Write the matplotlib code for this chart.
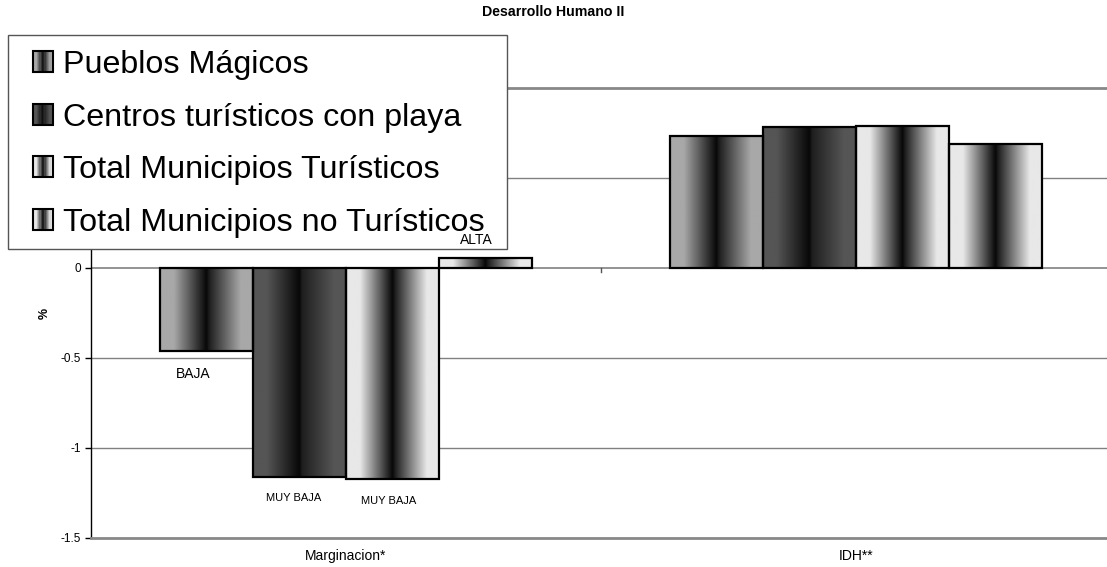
import numpy as np
import matplotlib
matplotlib.use("Agg")
import matplotlib.pyplot as plt
from matplotlib.patches import Patch, Rectangle
from matplotlib.legend_handler import HandlerBase

plt.rcParams['font.family'] = ['Liberation Sans', 'DejaVu Sans']

# Data
categories = ['Marginacion*', 'IDH**']
series = ['Pueblos Mágicos', 'Centros turísticos con playa',
          'Total Municipios Turísticos', 'Total Municipios no Turísticos']
pueblos = [-0.46, 0.733]
playa = [-1.16, 0.785]
total_tur = [-1.17, 0.79]
total_no_tur = [0.056, 0.69]
marg_labels = ['BAJA', 'MUY BAJA', 'MUY BAJA', 'ALTA']

base_colors = ['#a8a8a8', '#555555', '#e8e8e8', '#e8e8e8']

# horizontal gradient: base -> near black in the middle -> base
grad_pos = [0.0, 0.15, 0.5, 0.53, 0.87, 1.0]


def grad_colors(base, n=64):
    rgb = np.array(matplotlib.colors.to_rgb(base))
    dark = np.array([0.03, 0.03, 0.03])
    dark2 = np.array([0.12, 0.12, 0.12])
    stops = np.array([rgb, rgb, dark, dark2, rgb, rgb])
    t = (np.arange(n) + 0.5) / n
    return np.stack([np.interp(t, grad_pos, stops[:, k]) for k in range(3)], axis=1)


class GradHandler(HandlerBase):
    def __init__(self, base):
        super().__init__()
        self.base = base

    def create_artists(self, legend, orig_handle, xdescent, ydescent,
                       width, height, fontsize, trans):
        n = 16
        cols = grad_colors(self.base, n)
        arts = []
        for i in range(n):
            arts.append(Rectangle((-xdescent + i * width / n, -ydescent), width / n, height,
                                  facecolor=cols[i], edgecolor='none', transform=trans))
        arts.append(Rectangle((-xdescent, -ydescent), width, height, fill=False,
                              edgecolor='black', lw=1.5, transform=trans))
        return arts


fig = plt.figure(figsize=(11.07, 5.67), dpi=100)
ax = fig.add_axes([91 / 1107, 29 / 567, 1020 / 1107, 450 / 567])

x = np.arange(len(categories))
width = 0.182
all_vals = [pueblos, playa, total_tur, total_no_tur]
bar_sets = []
for i, vals in enumerate(all_vals):
    offs = (i - 1.5) * width
    bars = ax.bar(x + offs, vals, width, facecolor='none', edgecolor='black',
                  linewidth=1.6, zorder=4)
    bar_sets.append(bars)
    img = grad_colors(base_colors[i], 128)[np.newaxis, :, :]
    for b in bars:
        x0, y0 = b.get_x(), b.get_y()
        ax.imshow(img, extent=[x0, x0 + b.get_width(), y0, y0 + b.get_height()],
                  aspect='auto', interpolation='bilinear', zorder=3)

# data labels for the Marginacion group (drawn over the legend box, like the original)
label_offsets = [(-10, -12), (-4, -11.5), (-2.5, -12.5), (-6.5, 8)]
label_sizes = [10, 8, 8, 10]
for i, lab in enumerate(marg_labels):
    b = bar_sets[i][0]
    v = all_vals[i][0]
    va = 'bottom' if v > 0 else 'top'
    ax.annotate(lab, (b.get_x() + b.get_width() / 2, v), xytext=label_offsets[i],
                textcoords='offset points', ha='center', va=va,
                fontsize=label_sizes[i], zorder=7, annotation_clip=False)

ax.set_xlim(-0.5, 1.5)
ax.set_ylim(-1.5, 1.0)
ax.set_yticks([-1.5, -1, -0.5, 0, 0.5, 1])
ax.set_yticklabels(['-1.5', '-1', '-0.5', '0', '', ''], fontsize=8.5)
ax.tick_params(axis='y', length=4, width=1, direction='out', pad=3)
ax.set_xticks(x)
ax.set_xticklabels(categories, fontsize=10)
ax.tick_params(axis='x', length=0, pad=8)

for yv in [-1, -0.5, 0.5]:
    ax.axhline(yv, color='#808080', lw=1, zorder=1)
ax.axhline(0, color='#808080', lw=1.2, zorder=1)
ax.plot([0.5, 0.5], [0, -0.02], color='#555555', lw=1, zorder=1)

ax.spines['right'].set_visible(False)
ax.spines['top'].set_color('#888888')
ax.spines['top'].set_linewidth(2)
ax.spines['bottom'].set_color('#888888')
ax.spines['bottom'].set_linewidth(2)
ax.spines['left'].set_color('black')
ax.spines['left'].set_linewidth(1)

ax.set_ylabel('%', fontsize=9, fontweight='bold', labelpad=7)

fig.text(0.5, 1 - 12 / 567, 'Desarrollo Humano II', ha='center', va='center',
         fontsize=10.2, fontweight='bold')

# legend box (frame drawn separately so its padding matches the original)
box = Rectangle((8 / 1107, 1 - 249 / 567), 499 / 1107, 214 / 567,
                transform=fig.transFigure, facecolor='white', edgecolor='#555555',
                lw=1, zorder=5.5, clip_on=False)
ax.add_patch(box)

handles = [Patch(label=s) for s in series]
hmap = {h: GradHandler(c) for h, c in zip(handles, base_colors)}
leg = ax.legend(handles=handles, loc='upper left', bbox_to_anchor=(33 / 1107, 1 - 50 / 567),
                bbox_transform=fig.transFigure, borderaxespad=0, borderpad=0,
                fontsize=23.2, handler_map=hmap, handlelength=0.63, handleheight=0.63,
                handletextpad=0.3, labelspacing=0.7, frameon=False)
leg.set_zorder(6)

fig.savefig('out.png', dpi=100)
